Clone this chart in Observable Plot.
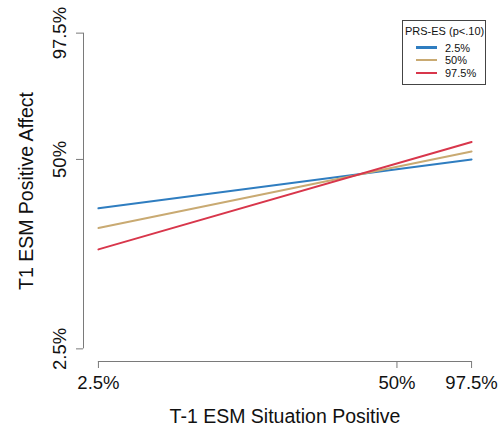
<!DOCTYPE html>
<html>
<head>
<meta charset="utf-8">
<script src="https://cdn.jsdelivr.net/npm/d3@7"></script>
<script src="https://cdn.jsdelivr.net/npm/@observablehq/plot@0.6"></script>
<style>
  html, body { margin: 0; padding: 0; background: #fff; }
  #wrap { position: relative; width: 502px; height: 434px; font-family: "Liberation Sans", Arial, sans-serif; }
  #legend { position: absolute; left: 402px; top: 20px; width: 82px; height: 63px; border: 1px solid #444; background: #fff; font-size: 11px; color: #111; }
  #legend .title { position: absolute; left: 2px; top: 4px; white-space: nowrap; }
  #legend .row { position: absolute; left: 13px; height: 12px; display: flex; align-items: center; white-space: nowrap; }
  #legend .sw { width: 21px; height: 2.5px; margin-right: 8px; }
</style>
</head>
<body>
<div id="wrap"><div id="chart"></div><div id="legend"></div></div>
<script>
// Scale values (x: predictor, y: outcome) with percentile tick labels
const xTickVals = [1, 4.2, 5];
const xTickLabels = ["2.5%", "50%", "97.5%"];
const yTickVals = [1, 3.4, 5];
const yTickLabels = ["2.5%", "50%", "97.5%"];

const xTitle = "T-1 ESM Situation Positive";
const yTitle = "T1 ESM Positive Affect";
const legendTitle = "PRS-ES (p<.10)";

const seriesNames = ["2.5%", "50%", "97.5%"];
const seriesColors = ["#2f7dc0", "#c9aa72", "#d8364b"];
const xPoints = [1, 5];
const ySeries = {
  "2.5%": [2.78, 3.40],
  "50%": [2.53, 3.50],
  "97.5%": [2.26, 3.62]
};

const data = seriesNames.flatMap(s => xPoints.map((x, i) => ({series: s, x, y: ySeries[s][i]})));

const pad = (a, b) => { const p = (b - a) * 0.04; return [a - p, b + p]; };
const xDomain = pad(xTickVals[0], xTickVals[xTickVals.length - 1]);
const yDomain = pad(yTickVals[0], yTickVals[yTickVals.length - 1]);

const axisGray = "#7a7a7a";
const font = 18.5;

const chart = Plot.plot({
  width: 502,
  height: 434,
  marginLeft: 83,
  marginRight: 16,
  marginTop: 20,
  marginBottom: 73,
  style: {fontFamily: "'Liberation Sans', Arial, sans-serif", background: "white", color: "#111"},
  x: {domain: xDomain, axis: null},
  y: {domain: yDomain, axis: null},
  color: {domain: seriesNames, range: seriesColors},
  marks: [
    Plot.ruleY([yDomain[0]], {x1: xTickVals[0], x2: xTickVals[xTickVals.length - 1], stroke: axisGray}),
    Plot.ruleX([xDomain[0]], {y1: yTickVals[0], y2: yTickVals[yTickVals.length - 1], stroke: axisGray}),
    Plot.axisX(xTickVals, {
      anchor: "bottom", label: null, tickSize: 7, tickPadding: 7, fontSize: font,
      stroke: axisGray, fill: "#111",
      tickFormat: d => xTickLabels[xTickVals.indexOf(d)]
    }),
    Plot.axisY(yTickVals, {
      anchor: "left", label: null, tickSize: 7, stroke: axisGray, tickFormat: () => ""
    }),
    Plot.text(yTickVals, {
      x: () => xDomain[0], y: d => d, text: d => yTickLabels[yTickVals.indexOf(d)],
      rotate: -90, dx: -18, lineAnchor: "bottom", textAnchor: "middle",
      fontSize: font, fill: "#111"
    }),
    Plot.text([xTitle], {frameAnchor: "bottom", dy: 61, lineAnchor: "bottom", textAnchor: "middle", fontSize: 19.5, fill: "#111"}),
    Plot.text([yTitle], {frameAnchor: "left", dx: -51, rotate: -90, lineAnchor: "bottom", textAnchor: "middle", fontSize: 19.5, fill: "#111"}),
    Plot.line(data, {x: "x", y: "y", z: "series", stroke: "series", strokeWidth: 2})
  ]
});
document.getElementById("chart").appendChild(chart);

// Legend
const leg = document.getElementById("legend");
const t = document.createElement("div");
t.className = "title";
t.textContent = legendTitle;
leg.appendChild(t);
seriesNames.forEach((s, i) => {
  const r = document.createElement("div");
  r.className = "row";
  r.style.top = (20.5 + i * 12.7) + "px";
  const sw = document.createElement("div");
  sw.className = "sw";
  sw.style.background = seriesColors[i];
  const lab = document.createElement("span");
  lab.textContent = s;
  r.appendChild(sw);
  r.appendChild(lab);
  leg.appendChild(r);
});
</script>
</body>
</html>
